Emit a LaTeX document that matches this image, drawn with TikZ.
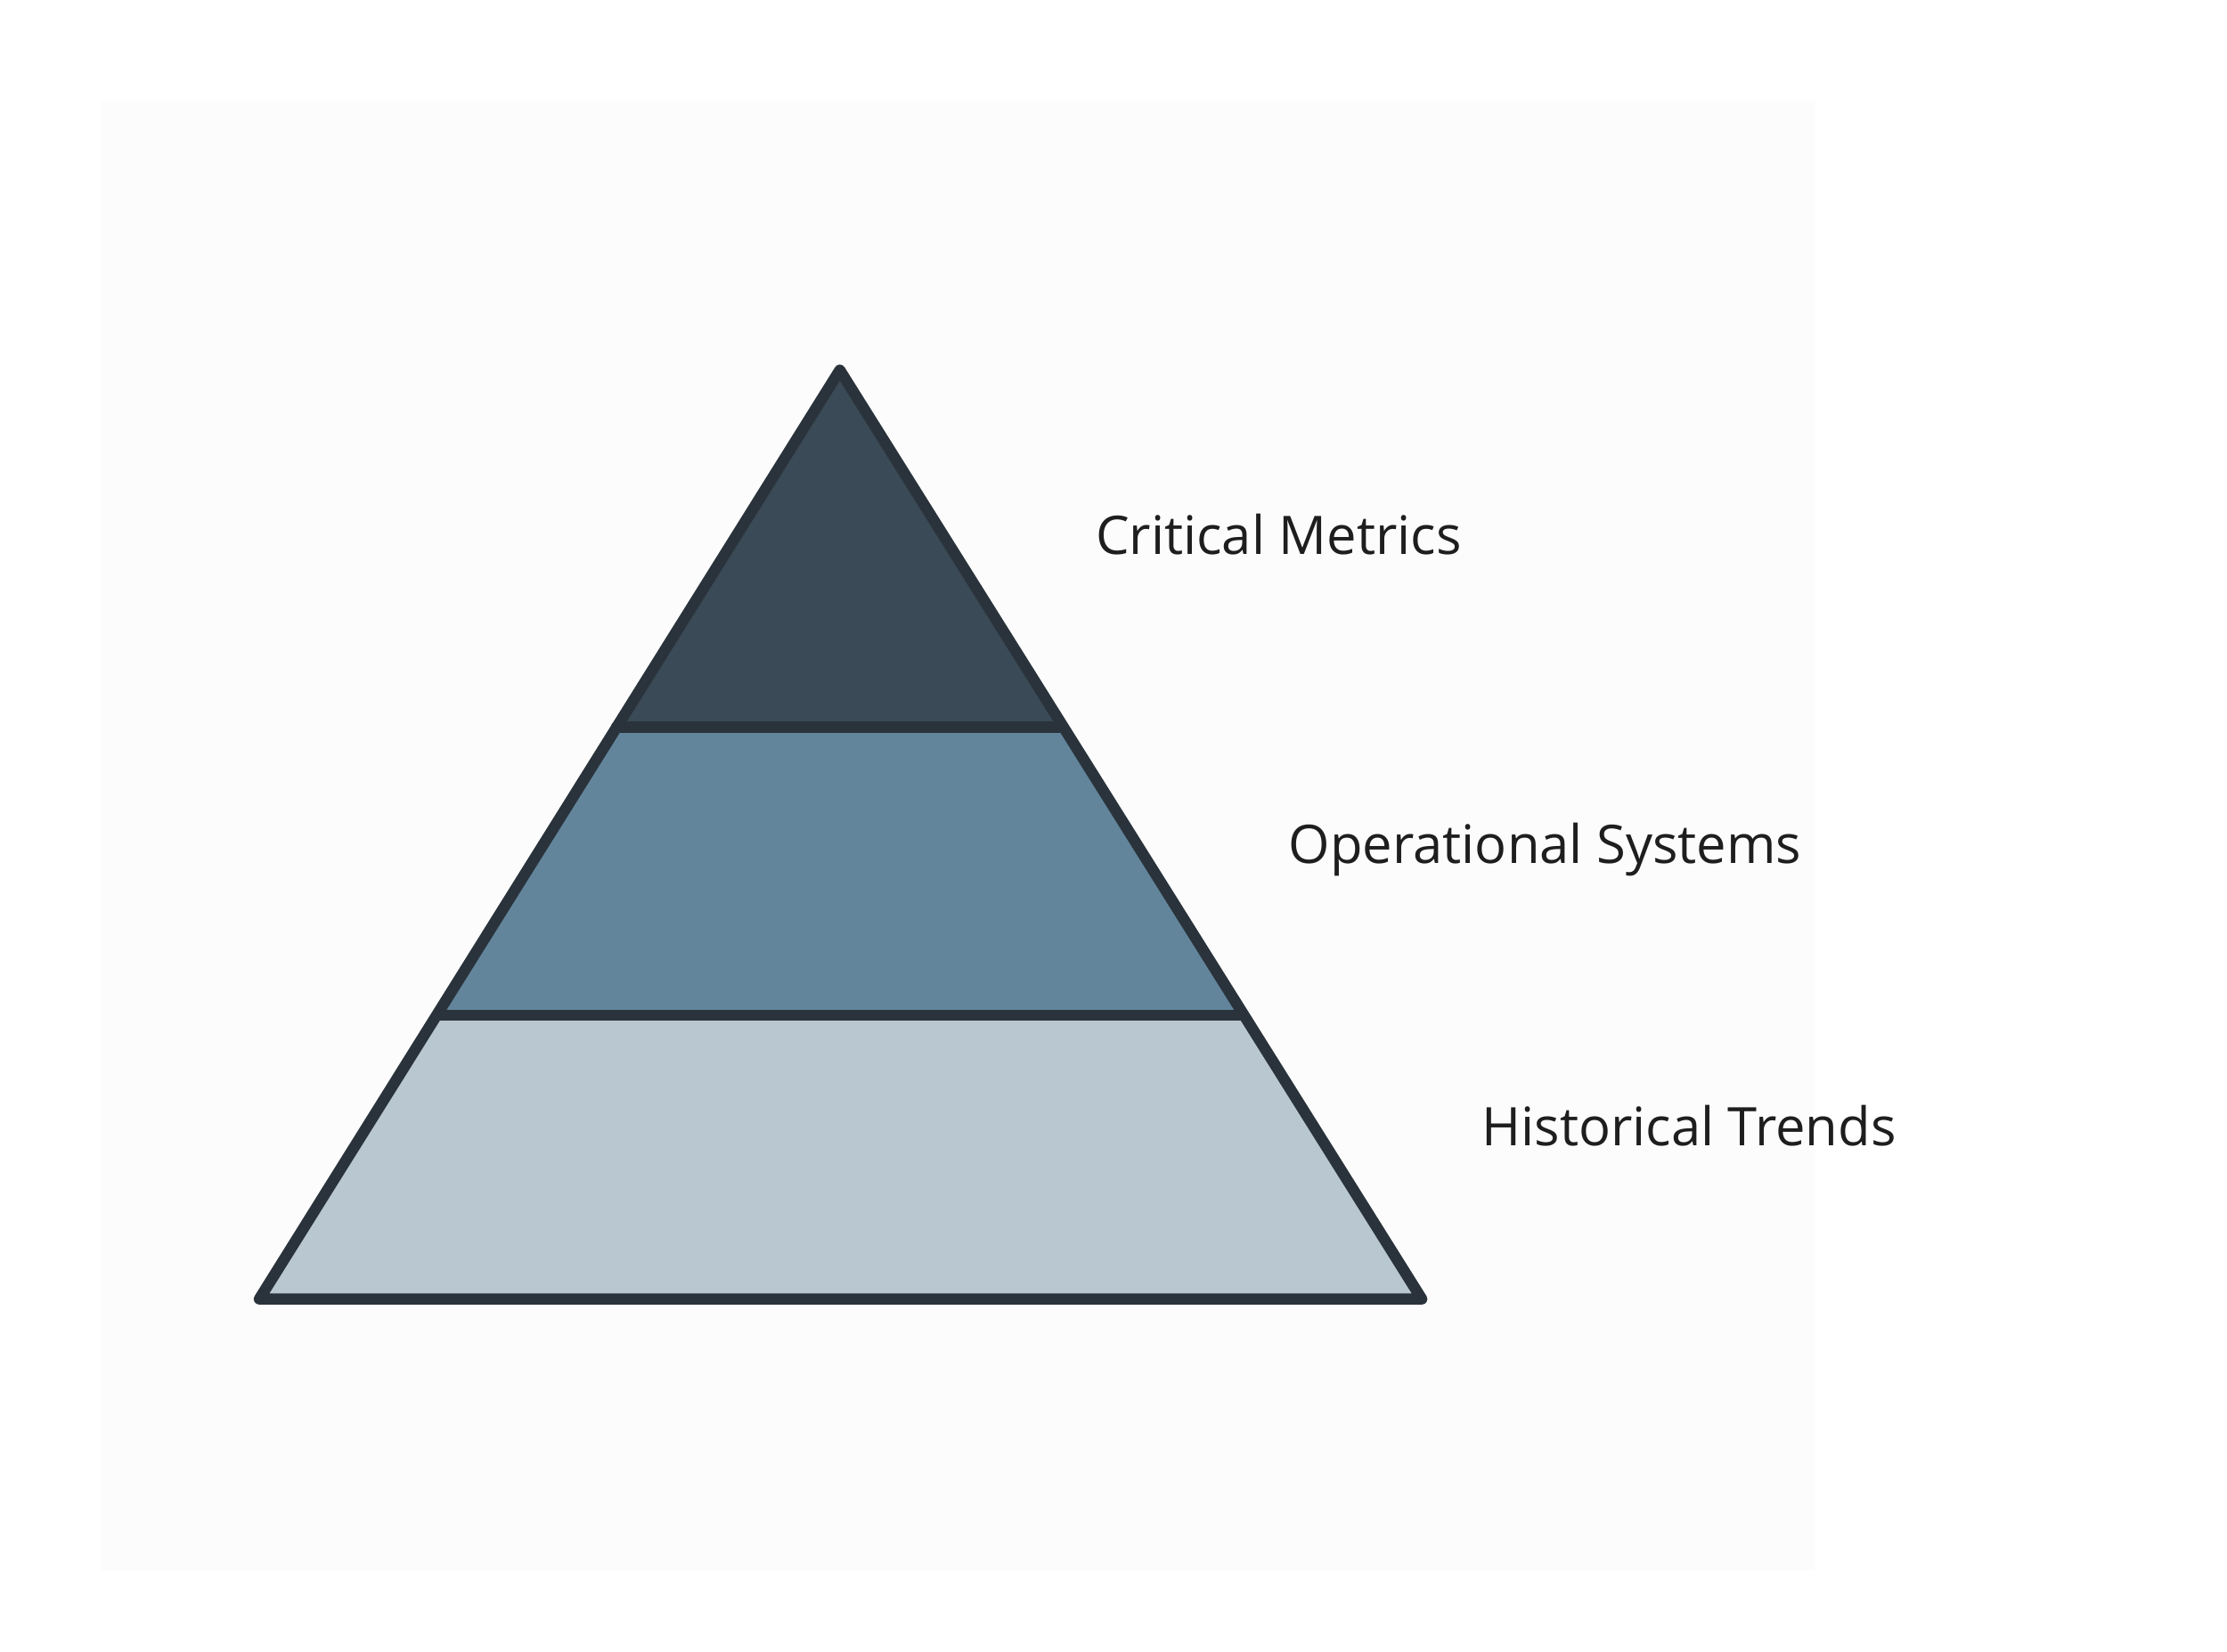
\documentclass[tikz,border=0pt]{standalone}
\usepackage{fontspec}
\setmainfont{Open Sans}
\begin{document}
\begin{tikzpicture}[x=0.01cm,y=-0.01cm,
  edge/.style={draw=lineC,line width=2.2pt,line join=round,line cap=round},
  lbl/.style={anchor=west,font=\fontsize{10.5pt}{12pt}\selectfont,text=txtC,inner sep=0pt}]
\definecolor{lineC}{HTML}{2A333B}
\definecolor{topC}{HTML}{3A4A56}
\definecolor{midC}{HTML}{62859B}
\definecolor{botC}{HTML}{B8C7D0}
\definecolor{txtC}{HTML}{1E1E1E}
\definecolor{bgC}{HTML}{FCFCFC}
\fill[white] (0,0) rectangle (1546,1147);
\fill[bgC] (70,70) rectangle (1260,1090);
\useasboundingbox (0,0) rectangle (1546,1147);
\coordinate (A) at (583,257);
\coordinate (BL) at (180,902);
\coordinate (BR) at (987,902);
\coordinate (L1) at (428,505);
\coordinate (R1) at (738,505);
\coordinate (L2) at (304,705);
\coordinate (R2) at (862,705);
\fill[botC] (L2) -- (R2) -- (BR) -- (BL) -- cycle;
\fill[midC] (L1) -- (R1) -- (R2) -- (L2) -- cycle;
\fill[topC] (A) -- (R1) -- (L1) -- cycle;
\draw[edge] (A) -- (BR) -- (BL) -- cycle;
\draw[edge] (L1) -- (R1);
\draw[edge] (L2) -- (R2);
\node[lbl] (t1) at (760,371) {Critical Metrics};
\node[lbl] (t2) at (894,590) {Operational Systems};
\node[lbl] (t3) at (1028,782) {Historical Trends};
\end{tikzpicture}
\end{document}
